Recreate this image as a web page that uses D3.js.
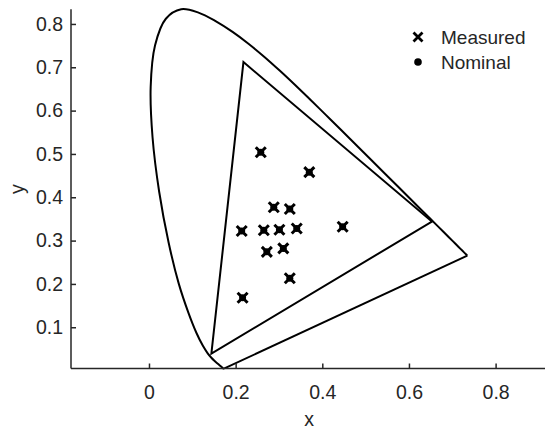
<!DOCTYPE html>
<html>
<head>
<meta charset="utf-8">
<script src="https://cdn.jsdelivr.net/npm/d3@7"></script>
<style>
  body { margin: 0; background: #fff; }
  text { font-family: "Liberation Sans", Arial, Helvetica, sans-serif; fill: #262626; }
</style>
</head>
<body>
<svg width="545" height="430"></svg>
<script>
var svg = d3.select('svg');

// CIE 1931 2-degree spectral locus, 380..700 nm in 5 nm steps
const locusX = [0.1741, 0.1740, 0.1738, 0.1736, 0.1733, 0.1730, 0.1726, 0.1721, 0.1714, 0.1703,
    0.1689, 0.1669, 0.1644, 0.1611, 0.1566, 0.1510, 0.1440, 0.1355, 0.1241, 0.1096,
    0.0913, 0.0687, 0.0454, 0.0235, 0.0082, 0.0039, 0.0139, 0.0389, 0.0743, 0.1142,
    0.1547, 0.1929, 0.2296, 0.2658, 0.3016, 0.3373, 0.3731, 0.4087, 0.4441, 0.4788,
    0.5125, 0.5448, 0.5752, 0.6029, 0.6270, 0.6482, 0.6658, 0.6801, 0.6915, 0.7006,
    0.7079, 0.7140, 0.7190, 0.7230, 0.7260, 0.7283, 0.7300, 0.7311, 0.7320, 0.7327,
    0.7334, 0.7340, 0.7344, 0.7346, 0.7347];
const locusY = [0.0050, 0.0050, 0.0049, 0.0049, 0.0048, 0.0048, 0.0048, 0.0048, 0.0051, 0.0058,
    0.0069, 0.0086, 0.0109, 0.0138, 0.0177, 0.0227, 0.0297, 0.0399, 0.0578, 0.0868,
    0.1327, 0.2007, 0.2950, 0.4127, 0.5384, 0.6548, 0.7502, 0.8120, 0.8338, 0.8262,
    0.8059, 0.7816, 0.7543, 0.7243, 0.6923, 0.6589, 0.6245, 0.5896, 0.5547, 0.5202,
    0.4866, 0.4544, 0.4242, 0.3965, 0.3725, 0.3514, 0.3340, 0.3197, 0.3083, 0.2993,
    0.2920, 0.2859, 0.2809, 0.2770, 0.2740, 0.2717, 0.2700, 0.2689, 0.2680, 0.2673,
    0.2666, 0.2660, 0.2656, 0.2654, 0.2653];

// gamut triangle (green, red, blue)
const gamutX = [0.218, 0.653, 0.144];
const gamutY = [0.712, 0.344, 0.039];

// nominal and measured chromaticities
const nominalX = [0.258, 0.370, 0.288, 0.325, 0.214, 0.265, 0.301, 0.341, 0.447, 0.272, 0.310, 0.325, 0.216];
const nominalY = [0.504, 0.458, 0.377, 0.373, 0.322, 0.324, 0.325, 0.328, 0.332, 0.274, 0.282, 0.213, 0.168];
const measuredX = [0.258, 0.370, 0.288, 0.325, 0.214, 0.265, 0.301, 0.341, 0.447, 0.272, 0.310, 0.325, 0.216];
const measuredY = [0.504, 0.458, 0.377, 0.373, 0.322, 0.324, 0.325, 0.328, 0.332, 0.274, 0.282, 0.213, 0.168];

const xTicks = [0, 0.2, 0.4, 0.6, 0.8];
const yTicks = [0.1, 0.2, 0.3, 0.4, 0.5, 0.6, 0.7, 0.8];

let x = d3.scaleLinear().domain([-0.18, 0.914]).range([71, 545]);
let y = d3.scaleLinear().domain([0.0048, 0.8338]).range([368.5, 9.3]);

let smooth = d3.line().x(d => x(d[0])).y(d => y(d[1])).curve(d3.curveCatmullRom.alpha(0.5));
let line = d3.line().x(d => x(d[0])).y(d => y(d[1]));

// spectral locus, then the purple line that closes it
let locus = locusX.map((v, i) => [v, locusY[i]]);
svg.append('path').attr('d', smooth(locus))
    .attr('fill', 'none').attr('stroke', 'black').attr('stroke-width', 2)
    .attr('stroke-linejoin', 'round');
svg.append('path').attr('d', line([locus[locus.length - 1], locus[0]]))
    .attr('fill', 'none').attr('stroke', 'black').attr('stroke-width', 2);

let tri = gamutX.map((v, i) => [v, gamutY[i]]);
tri.push(tri[0]);
svg.append('path').attr('d', line(tri) + 'Z')
    .attr('fill', 'none').attr('stroke', 'black').attr('stroke-width', 2)
    .attr('stroke-linejoin', 'miter');

// nominal dots
svg.append('g').selectAll('circle').data(nominalX).enter().append('circle')
    .attr('cx', d => x(d))
    .attr('cy', (d, i) => y(nominalY[i]))
    .attr('r', 3.5)
    .attr('fill', 'black');

// measured crosses
let cs = 5;
svg.append('g').selectAll('path').data(measuredX).enter().append('path')
    .attr('d', function(d, i) {
        let px = x(d), py = y(measuredY[i]);
        return 'M' + (px - cs) + ',' + (py - cs) + 'L' + (px + cs) + ',' + (py + cs) +
            'M' + (px - cs) + ',' + (py + cs) + 'L' + (px + cs) + ',' + (py - cs);
    })
    .attr('stroke', 'black').attr('stroke-width', 3).attr('fill', 'none');

// axes
let xAxis = d3.axisBottom(x).tickValues(xTicks).tickSize(-5).tickPadding(17)
    .tickFormat(d3.format('~g'));
let yAxis = d3.axisLeft(y).tickValues(yTicks).tickSize(-5).tickPadding(8)
    .tickFormat(d3.format('~g'));

let gx = svg.append('g').attr('transform', 'translate(0,368.5)').call(xAxis);
let gy = svg.append('g').attr('transform', 'translate(71,0)').call(yAxis);
[gx, gy].forEach(function(g) {
    g.select('.domain').attr('stroke', '#262626').attr('stroke-width', 1.5);
    g.selectAll('.tick line').attr('stroke', '#262626').attr('stroke-width', 1.5);
    g.selectAll('.tick text').attr('font-size', 19.5)
        .attr('font-family', '"Liberation Sans", Arial, sans-serif').attr('fill', '#262626');
});
gy.select('.domain').attr('d', 'M0,368.5V9.3');
gx.select('.domain').attr('d', 'M71,0H545');

svg.append('text').attr('x', 309).attr('y', 426).attr('text-anchor', 'middle')
    .attr('font-size', 19.5).text('x');
svg.append('text').attr('transform', 'translate(24,189) rotate(-90)')
    .attr('text-anchor', 'middle').attr('font-size', 19.5).text('y');

// legend
let lg = svg.append('g');
lg.append('path').attr('d', 'M413.5,32.5L422.5,41.5M413.5,41.5L422.5,32.5')
    .attr('stroke', 'black').attr('stroke-width', 2.8);
lg.append('circle').attr('cx', 418).attr('cy', 62).attr('r', 3.8).attr('fill', 'black');
lg.append('text').attr('x', 441).attr('y', 44).attr('font-size', 19).text('Measured');
lg.append('text').attr('x', 441).attr('y', 69).attr('font-size', 19).text('Nominal');
</script>
</body>
</html>
